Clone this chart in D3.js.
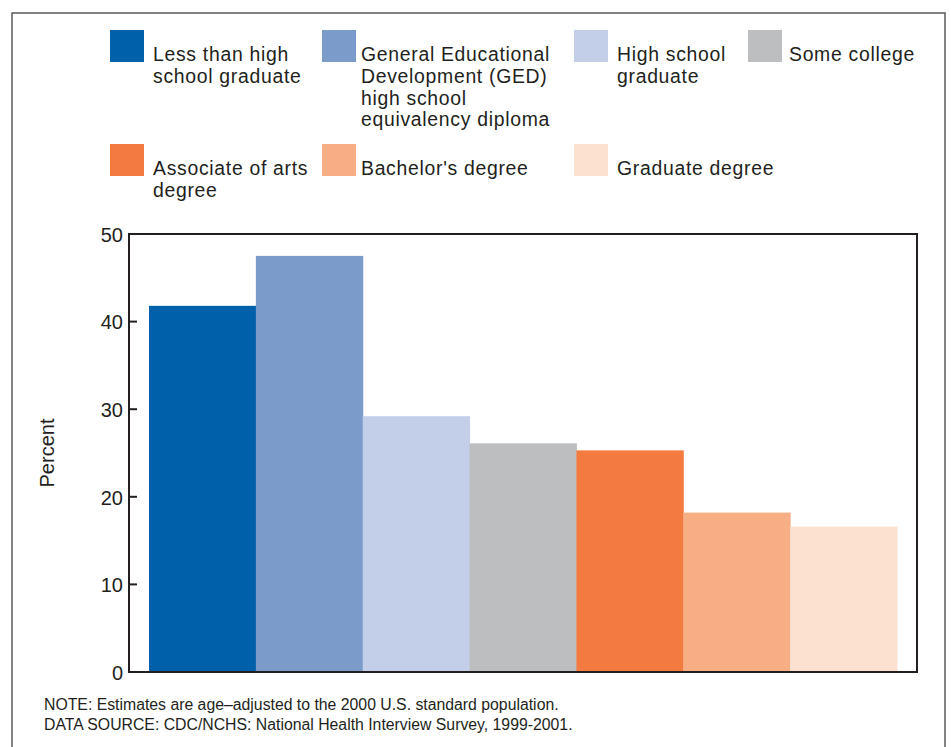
<!DOCTYPE html>
<html><head><meta charset="utf-8">
<script src="https://cdn.jsdelivr.net/npm/d3@7"></script>
<style>body{margin:0;background:#fff;}svg text{font-family:"Liberation Sans",Arial,sans-serif;fill:#231f20;}</style>
</head><body>
<svg id="c" width="951" height="747"></svg>
<script>
const categories = ["Less than high school graduate","General Educational Development (GED) high school equivalency diploma","High school graduate","Some college","Associate of arts degree","Bachelor's degree","Graduate degree"];
const legendLines = [["Less than high","school graduate"],["General Educational","Development (GED)","high school","equivalency diploma"],["High school","graduate"],["Some college"],["Associate of arts","degree"],["Bachelor's degree"],["Graduate degree"]];
const values = [41.8, 47.5, 29.2, 26.1, 25.3, 18.2, 16.6];
const colors = ["#0060a9","#7b9bcb","#c3cfe8","#bdbec0","#f37b40","#f8ae85","#fce0d0"];
const yTicks = [0,10,20,30,40,50];
const notes = ["NOTE: Estimates are age\u2013adjusted to the 2000 U.S. standard population.","DATA SOURCE: CDC/NCHS: National Health Interview Survey, 1999-2001."];

const svg = d3.select("#c");
// outer frame
svg.append("rect").attr("x",12).attr("y",13).attr("width",933).attr("height",760)
  .attr("fill","none").attr("stroke","#5a5a5a").attr("stroke-width",1.5);

const L=129,R=917,T=234,B=672;
const x = d3.scaleBand().domain(categories).range([L+20,R-20]).padding(0);
const y = d3.scaleLinear().domain([0,50]).range([B,T]);

svg.append("g").selectAll("rect").data(values).join("rect")
  .attr("x",(d,i)=>x(categories[i])).attr("width",x.bandwidth()+0.5)
  .attr("y",d=>y(d)).attr("height",d=>B-y(d)).attr("fill",(d,i)=>colors[i]);

const ax = svg.append("g").attr("transform",`translate(${L},0)`)
  .call(d3.axisLeft(y).tickValues(yTicks).tickSize(0).tickPadding(6));
ax.select(".domain").remove();
ax.selectAll(".tick text").attr("font-size",20).attr("fill","#231f20").attr("dy","0.36em");
// inward tick marks
svg.append("g").selectAll("line").data(yTicks).join("line")
  .attr("x1",L).attr("x2",L+8).attr("y1",d=>y(d)).attr("y2",d=>y(d))
  .attr("stroke","#231f20").attr("stroke-width",2);

svg.append("rect").attr("x",L).attr("y",T).attr("width",R-L).attr("height",B-T)
  .attr("fill","none").attr("stroke","#231f20").attr("stroke-width",2);

svg.append("text").attr("transform","translate(54,453) rotate(-90)")
  .attr("text-anchor","middle").attr("font-size",20).text("Percent");

// legend
const legPos = [[110,30],[322,30],[574,30],[748,30],[110,144],[322,144],[574,144]];
const textX = [153,361,617,789,153,361,617];
categories.forEach((c,i)=>{
  const [sx,sy]=legPos[i];
  svg.append("rect").attr("x",sx).attr("y",sy).attr("width",34).attr("height",32).attr("fill",colors[i]);
  legendLines[i].forEach((ln,j)=>svg.append("text").attr("x",textX[i]).attr("y",sy+31+j*21.8)
    .attr("font-size",19.4).attr("letter-spacing",0.7).text(ln));
});

notes.forEach((n,i)=>svg.append("text").attr("x",44).attr("y",710+i*20).attr("font-size",15.8).text(n));
</script>
</body></html>
